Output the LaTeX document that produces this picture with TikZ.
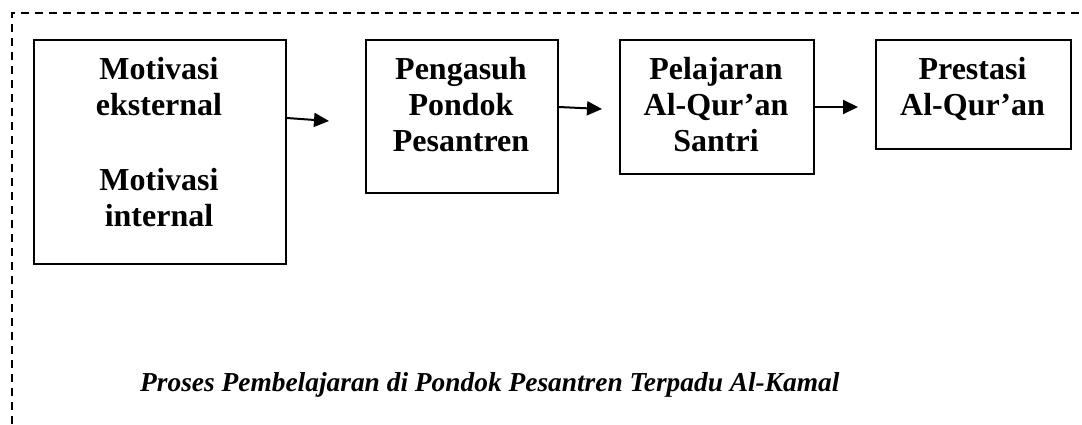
\documentclass[tikz,border=0pt]{standalone}
\usepackage{fontspec}
\setmainfont{Liberation Serif}
\usetikzlibrary{arrows.meta,calc}
\begin{document}
\begin{tikzpicture}[x=1pt,y=-1pt,
  boxn/.style={draw, line width=2pt, inner sep=0pt, anchor=north west},
  lbl/.style={align=center, inner sep=0pt, anchor=north,
    font=\fontsize{32}{36}\selectfont\bfseries},
  capn/.style={inner sep=0pt, anchor=base west,
    font=\fontsize{27.4}{30}\selectfont\bfseries\itshape},
  arr/.style={line width=2pt, -{Triangle[length=15pt,width=14pt]}},
  frame/.style={line width=2pt, dash pattern=on 8pt off 6pt}]
\useasboundingbox (0,0) rectangle (1082,424);
\draw[frame] (12,424) -- (12,13) -- (1082,13);
% boxes
\node[boxn, minimum width=252pt, minimum height=224pt] (b1) at (33,39) {};
\node[boxn, minimum width=192pt, minimum height=153pt] (b2) at (365,39) {};
\node[boxn, minimum width=194pt, minimum height=134pt] (b3) at (619,39) {};
\node[boxn, minimum width=195pt, minimum height=109pt] (b4) at (875,39) {};
% texts
\node[lbl] (t1) at (159,57) {Motivasi\\eksternal\\[39pt]Motivasi\\internal};
\node[lbl] (t2) at (461,57) {Pengasuh\\Pondok\\Pesantren};
\node[lbl] (t3) at (716,57) {Pelajaran\\Al-Qur’an\\Santri};
\node[lbl] (t4) at (972.5,57) {Prestasi\\Al-Qur’an};
% arrows
\coordinate (e1) at (329,121);
\coordinate (e2) at (602,109);
\coordinate (e3) at (858,107);
\draw[arr] ($(b1.north east)+(0,79)$) -- (e1);
\draw[arr] ($(b2.north east)+(0,68)$) -- (e2);
\draw[arr] ($(b3.north east)+(0,68)$) -- (e3);
% caption
\node[capn] (cap) at (140,391) {Proses Pembelajaran di Pondok Pesantren Terpadu Al-Kamal};
\end{tikzpicture}
\end{document}
